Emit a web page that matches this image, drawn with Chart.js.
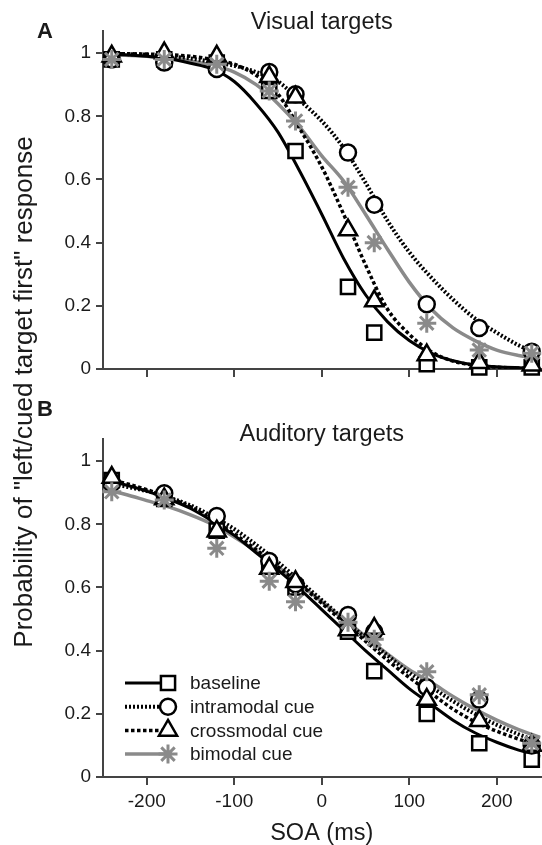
<!DOCTYPE html>
<html>
<head>
<meta charset="utf-8">
<script src="https://cdn.jsdelivr.net/npm/chart.js@4.4.1/dist/chart.umd.min.js"></script>
<style>
  html, body { margin: 0; padding: 0; background: #fff; overflow: hidden; }
  #wrap { position: relative; width: 542px; height: 845px; font-family: "Liberation Sans", Arial, sans-serif; color: #1a1a1a; }
  canvas { position: absolute; left: 0; }
  #chartA { top: 0; }
  #chartB { top: 400px; }
  .letter { position: absolute; font-weight: bold; font-size: 22px; line-height: 22px; }
  #ytitle { position: absolute; left: 23px; top: 392px; font-size: 26px; white-space: nowrap;
            transform: translate(-50%, -50%) rotate(-90deg); }
</style>
</head>
<body>
<div id="wrap">
  <canvas id="chartA" width="542" height="400"></canvas>
  <canvas id="chartB" width="542" height="445"></canvas>
  <div class="letter" style="left:37px; top:20px">A</div>
  <div class="letter" style="left:37px; top:398px">B</div>
  <div id="ytitle">Probability of "left/cued target first" response</div>
</div>
<script>
// SOA of the measured points (ms)
var soa = [-240, -180, -120, -60, -30, 30, 60, 120, 180, 240];
var fitSoa = [-250, -225, -200, -175, -150, -125, -100, -75, -50, -25, 0,
              25, 50, 75, 100, 125, 150, 175, 200, 225, 250];
// tick values
var xTicks = [-200, -100, 0, 100, 200];
var yTicks = [0, 0.2, 0.4, 0.6, 0.8, 1];

// A - visual targets, measured
var visBaseline   = [0.98, 0.98, 0.97, 0.88, 0.69, 0.26, 0.115, 0.015, 0.005, 0.005];
var visIntramodal = [0.98, 0.97, 0.95, 0.94, 0.87, 0.685, 0.52, 0.205, 0.13, 0.055];
var visCrossmodal = [0.99, 1.0, 0.99, 0.925, 0.86, 0.44, 0.215, 0.044, 0.02, 0.012];
var visBimodal    = [0.98, 0.98, 0.965, 0.88, 0.785, 0.575, 0.40, 0.145, 0.06, 0.05];
// A - fitted curves
var visBaselineFit   = [0.997, 0.995, 0.99, 0.982, 0.968, 0.95, 0.91, 0.84, 0.75, 0.625, 0.49,
                        0.35, 0.235, 0.15, 0.09, 0.05, 0.026, 0.013, 0.007, 0.004, 0.002];
var visIntramodalFit = [0.998, 0.997, 0.995, 0.99, 0.983, 0.972, 0.96, 0.94, 0.91, 0.85, 0.785,
                        0.70, 0.59, 0.47, 0.37, 0.29, 0.22, 0.16, 0.115, 0.075, 0.045];
var visCrossmodalFit = [0.999, 0.998, 0.997, 0.995, 0.99, 0.98, 0.965, 0.93, 0.87, 0.76, 0.64,
                        0.49, 0.33, 0.19, 0.11, 0.055, 0.025, 0.012, 0.006, 0.003, 0.002];
var visBimodalFit    = [0.995, 0.993, 0.99, 0.985, 0.975, 0.962, 0.94, 0.90, 0.84, 0.765, 0.675,
                        0.595, 0.49, 0.38, 0.275, 0.19, 0.13, 0.09, 0.06, 0.043, 0.032];

// B - auditory targets, measured
var audBaseline   = [0.94, 0.88, 0.78, 0.67, 0.60, 0.46, 0.335, 0.20, 0.107, 0.055];
var audIntramodal = [0.93, 0.898, 0.826, 0.684, 0.61, 0.513, 0.46, 0.284, 0.245, 0.10];
var audCrossmodal = [0.948, 0.88, 0.778, 0.66, 0.618, 0.465, 0.47, 0.245, 0.178, 0.10];
var audBimodal    = [0.903, 0.877, 0.724, 0.62, 0.555, 0.49, 0.436, 0.333, 0.26, 0.107];
// B - fitted curves
var audBaselineFit   = [0.94, 0.925, 0.905, 0.88, 0.85, 0.81, 0.765, 0.71, 0.655, 0.595, 0.53,
                        0.465, 0.40, 0.34, 0.28, 0.23, 0.18, 0.14, 0.11, 0.085, 0.065];
var audIntramodalFit = [0.935, 0.92, 0.905, 0.885, 0.86, 0.825, 0.785, 0.735, 0.68, 0.62, 0.56,
                        0.50, 0.44, 0.385, 0.33, 0.285, 0.24, 0.20, 0.165, 0.135, 0.11];
var audCrossmodalFit = [0.945, 0.93, 0.91, 0.885, 0.855, 0.815, 0.77, 0.72, 0.665, 0.61, 0.55,
                        0.49, 0.43, 0.37, 0.315, 0.265, 0.215, 0.175, 0.145, 0.12, 0.10];
var audBimodalFit    = [0.91, 0.895, 0.875, 0.855, 0.83, 0.80, 0.76, 0.715, 0.665, 0.61, 0.555,
                        0.50, 0.445, 0.39, 0.34, 0.30, 0.255, 0.215, 0.18, 0.15, 0.125];

var seriesNames = ['baseline', 'intramodal cue', 'crossmodal cue', 'bimodal cue'];

var FONT = '"Liberation Sans", Arial, sans-serif';
var GRAY = '#8a8a8a';
var AXIS = '#444';

// look of each condition
var looks = [
  { line: '#000', width: 3,   dash: [],         point: 'rect',     radius: 10,   stroke: '#000', fill: '#fff', bw: 2.5 },
  { line: '#000', width: 4,   dash: [2, 2],     point: 'circle',   radius: 8,    stroke: '#000', fill: '#fff', bw: 2.5 },
  { line: '#000', width: 3.5, dash: [3.5, 2.5], point: 'triangle', radius: 10.5, stroke: '#000', fill: '#fff', bw: 2.5 },
  { line: GRAY,   width: 3.5, dash: [],         point: 'star',     radius: 9.5,  stroke: GRAY,   fill: GRAY,   bw: 3 }
];

function toXY(xs, ys) {
  return xs.map(function (x, i) { return { x: x, y: ys[i] }; });
}

function buildDatasets(measured, fits) {
  var ds = [];
  fits.forEach(function (f, i) {
    var lk = looks[i];
    ds.push({
      label: seriesNames[i] + ' fit',
      data: toXY(fitSoa, f),
      showLine: true,
      borderColor: lk.line,
      borderWidth: lk.width,
      borderDash: lk.dash,
      pointRadius: 0,
      cubicInterpolationMode: 'monotone',
      fill: false,
      order: 10 + i
    });
  });
  measured.forEach(function (m, i) {
    var lk = looks[i];
    ds.push({
      label: seriesNames[i],
      data: toXY(soa, m),
      showLine: false,
      pointStyle: lk.point,
      pointRadius: lk.radius,
      pointBorderColor: lk.stroke,
      pointBackgroundColor: lk.fill,
      pointBorderWidth: lk.bw,
      clip: false,
      order: 4 - i
    });
  });
  return ds;
}

// panel title centred over the plot area
var titlePlugin = {
  id: 'panelTitle',
  afterDraw: function (chart, args, o) {
    var ctx = chart.ctx, a = chart.chartArea;
    ctx.save();
    ctx.font = '23.5px ' + FONT;
    ctx.fillStyle = '#1a1a1a';
    ctx.textAlign = 'center';
    ctx.textBaseline = 'alphabetic';
    ctx.fillText(o.text, (a.left + a.right) / 2, o.baseline);
    ctx.restore();
  }
};

// legend with line sample + marker, inside lower left of plot B
var legendPlugin = {
  id: 'cueLegend',
  afterDatasetsDraw: function (chart, args, o) {
    if (!o.show) return;
    var ctx = chart.ctx, a = chart.chartArea;
    var x0 = a.left + 22, x1 = a.left + 65, tx = a.left + 87;
    ctx.save();
    seriesNames.forEach(function (name, i) {
      var lk = looks[i];
      var y = a.bottom - 94 + i * 23.7;
      ctx.beginPath();
      ctx.setLineDash(lk.dash);
      ctx.strokeStyle = lk.line;
      ctx.lineWidth = lk.width;
      ctx.moveTo(x0, y);
      ctx.lineTo(x1, y);
      ctx.stroke();
      ctx.setLineDash([]);
      ctx.fillStyle = lk.fill;
      ctx.strokeStyle = lk.stroke;
      ctx.lineWidth = lk.bw;
      Chart.helpers.drawPoint(ctx, { pointStyle: lk.point, radius: lk.radius, rotation: 0, borderWidth: lk.bw }, x1, y);
      ctx.fillStyle = '#1a1a1a';
      ctx.font = '19px ' + FONT;
      ctx.textAlign = 'left';
      ctx.textBaseline = 'middle';
      ctx.fillText(name, tx, y + 1);
    });
    ctx.restore();
  }
};

function setTicks(values) {
  return function (scale) {
    scale.ticks = values.map(function (v) { return { value: v }; });
  };
}

function makeChart(id, measured, fits, cfg) {
  return new Chart(document.getElementById(id), {
    type: 'scatter',
    data: { datasets: buildDatasets(measured, fits) },
    options: {
      responsive: false,
      animation: false,
      devicePixelRatio: 1,
      layout: { autoPadding: false, padding: { top: cfg.top, right: 1.5, left: 0, bottom: 0 } },
      plugins: {
        legend: { display: false },
        tooltip: { enabled: false },
        panelTitle: { text: cfg.title, baseline: cfg.titleY },
        cueLegend: { show: cfg.legend }
      },
      scales: {
        x: {
          type: 'linear', min: -250, max: 250,
          afterBuildTicks: setTicks(xTicks),
          afterFit: function (s) {
            s.height = cfg.xHeight;
            s.paddingLeft = 0;
            s.paddingRight = 0;
          },
          ticks: {
            maxRotation: 0, padding: 5, autoSkip: false,
            color: cfg.xLabels ? '#1a1a1a' : 'rgba(0,0,0,0)',
            font: { family: FONT, size: 19 }
          },
          grid: { drawOnChartArea: false, drawTicks: true, tickLength: 8, color: AXIS, lineWidth: 2 },
          border: { display: true, color: AXIS, width: 2 },
          title: {
            display: cfg.xLabels, text: 'SOA (ms)', color: '#1a1a1a',
            font: { family: FONT, size: 23.5, lineHeight: 1 }, padding: 0
          }
        },
        y: {
          min: 0, max: 1.07,
          afterBuildTicks: setTicks(yTicks),
          afterFit: function (s) {
            s.width = 103;
            s.paddingTop = 0;
            s.paddingBottom = 0;
          },
          ticks: {
            padding: 5, color: '#1a1a1a', autoSkip: false,
            font: { family: FONT, size: 19 },
            callback: function (v) { return String(Math.round(v * 10) / 10); }
          },
          grid: { drawOnChartArea: false, drawTicks: true, tickLength: 7, color: AXIS, lineWidth: 2 },
          border: { display: true, color: AXIS, width: 2 }
        }
      }
    },
    plugins: [titlePlugin, legendPlugin]
  });
}

var chartA = makeChart('chartA',
  [visBaseline, visIntramodal, visCrossmodal, visBimodal],
  [visBaselineFit, visIntramodalFit, visCrossmodalFit, visBimodalFit],
  { top: 31, xHeight: 31, xLabels: false, title: 'Visual targets', titleY: 29, legend: false });

var chartB = makeChart('chartB',
  [audBaseline, audIntramodal, audCrossmodal, audBimodal],
  [audBaselineFit, audIntramodalFit, audCrossmodalFit, audBimodalFit],
  { top: 39, xHeight: 68, xLabels: true, title: 'Auditory targets', titleY: 41, legend: true });
</script>
</body>
</html>
